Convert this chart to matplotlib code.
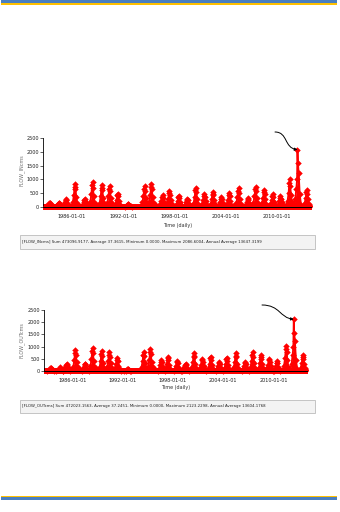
import matplotlib
matplotlib.use("Agg")
import matplotlib.pyplot as plt
from matplotlib.patches import Rectangle, FancyArrowPatch
from matplotlib.path import Path
from matplotlib import font_manager

# ---------------- data ----------------
event_years = [1983.40, 1984.50, 1985.30, 1986.35, 1987.50, 1988.40, 1989.50, 1990.40,
               1991.35, 1992.60, 1994.50, 1995.30, 1996.60, 1997.40, 1998.50, 1999.50,
               2000.50, 2001.50, 2002.50, 2003.50, 2004.40, 2005.50, 2006.60, 2007.50,
               2008.50, 2009.50, 2010.40, 2011.50, 2012.40, 2013.50]
event_offsets_days = [-150, -95, -50, -18, 0, 18, 50, 95, 150]

flow_in = [
    [10, 40, 90, 130, 150, 120, 70, 30, 10],
    [10, 40, 100, 140, 150, 110, 60, 25, 10],
    [15, 80, 180, 250, 280, 240, 150, 60, 15],
    [40, 160, 420, 720, 830, 650, 360, 140, 30],
    [15, 70, 170, 250, 280, 220, 120, 50, 15],
    [40, 180, 460, 780, 900, 700, 380, 150, 30],
    [35, 150, 400, 680, 780, 600, 330, 130, 30],
    [35, 150, 390, 650, 750, 580, 320, 120, 30],
    [20, 100, 250, 420, 480, 380, 210, 80, 20],
    [5, 20, 50, 85, 100, 70, 40, 15, 5],
    [35, 160, 390, 660, 760, 590, 320, 120, 30],
    [40, 170, 420, 710, 820, 630, 350, 140, 30],
    [20, 90, 220, 360, 420, 330, 180, 70, 20],
    [25, 120, 290, 490, 560, 430, 240, 90, 25],
    [20, 85, 210, 350, 400, 310, 170, 65, 20],
    [15, 60, 160, 260, 300, 230, 130, 50, 15],
    [35, 145, 360, 610, 700, 540, 300, 115, 30],
    [20, 100, 240, 410, 470, 360, 200, 75, 20],
    [25, 110, 280, 470, 540, 420, 230, 90, 25],
    [15, 75, 180, 300, 350, 270, 150, 60, 15],
    [25, 105, 260, 430, 500, 390, 210, 80, 20],
    [30, 140, 350, 590, 680, 520, 290, 110, 30],
    [15, 70, 170, 285, 330, 255, 140, 55, 15],
    [35, 150, 380, 630, 730, 560, 310, 120, 30],
    [30, 130, 320, 540, 620, 480, 265, 100, 25],
    [20, 95, 230, 390, 450, 350, 190, 75, 20],
    [20, 80, 195, 330, 380, 295, 160, 60, 15],
    [50, 210, 520, 870, 1000, 770, 430, 165, 40],
    [60, 280, 650, 1000, 2086.6, 1600, 1250, 480, 80],
    [30, 130, 320, 540, 620, 480, 265, 100, 25],
]

flow_out = [
    [8, 35, 80, 115, 130, 105, 60, 25, 8],
    [10, 40, 100, 140, 150, 110, 60, 25, 10],
    [15, 80, 180, 250, 280, 240, 150, 60, 15],
    [45, 170, 440, 750, 860, 670, 370, 145, 30],
    [15, 75, 185, 270, 305, 240, 130, 55, 15],
    [45, 190, 480, 810, 930, 720, 395, 155, 30],
    [40, 160, 420, 710, 820, 630, 345, 135, 30],
    [35, 155, 400, 665, 765, 590, 325, 125, 30],
    [25, 105, 270, 450, 520, 410, 225, 85, 20],
    [5, 18, 45, 75, 90, 65, 35, 15, 5],
    [35, 165, 400, 675, 780, 605, 330, 125, 30],
    [45, 185, 460, 770, 890, 690, 380, 150, 35],
    [20, 95, 235, 390, 450, 350, 190, 75, 20],
    [30, 125, 305, 515, 590, 455, 250, 95, 25],
    [20, 90, 220, 365, 420, 325, 180, 70, 20],
    [15, 60, 160, 260, 300, 230, 130, 50, 15],
    [35, 150, 370, 625, 720, 555, 305, 120, 30],
    [25, 105, 255, 435, 500, 385, 210, 80, 20],
    [30, 125, 305, 515, 590, 455, 250, 95, 25],
    [20, 80, 195, 330, 380, 295, 160, 60, 15],
    [25, 115, 285, 475, 550, 425, 235, 90, 25],
    [35, 150, 370, 625, 720, 555, 305, 120, 30],
    [20, 80, 195, 330, 380, 295, 160, 60, 15],
    [40, 160, 400, 665, 765, 590, 325, 125, 30],
    [30, 135, 335, 565, 650, 500, 275, 105, 25],
    [25, 105, 255, 435, 500, 385, 210, 80, 20],
    [20, 85, 205, 345, 400, 310, 170, 65, 15],
    [50, 215, 530, 885, 1020, 785, 435, 170, 40],
    [60, 290, 660, 970, 2123.2, 1570, 1240, 470, 80],
    [30, 135, 335, 565, 650, 500, 275, 105, 25],
]

series_span = [1982.6, 2014.1]
tick_years = [1986, 1992, 1998, 2004, 2010]
tick_labels = ["1986-01-01", "1992-01-01", "1998-01-01", "2004-01-01", "2010-01-01"]
y_ticks = [0, 500, 1000, 1500, 2000, 2500]

status_in = ("[FLOW_INcms] Sum 473096.9177, Average 37.3615, Minimum 0.0000, "
             "Maximum 2086.6004, Annual Average 13647.3199")
status_out = ("[FLOW_OUTcms] Sum 472023.1563, Average 37.2451, Minimum 0.0000, "
              "Maximum 2123.2298, Annual Average 13604.1768")

# ---------------- style ----------------
W, H = 340, 512
names = {f.name for f in font_manager.fontManager.ttflist}
FONT = "Liberation Sans Narrow" if "Liberation Sans Narrow" in names else "DejaVu Sans"
plt.rcParams["font.family"] = [FONT, "DejaVu Sans"]
RED = "#ff0000"
BLUE = "#4a7fc0"
GOLD = "#ffc000"

fig = plt.figure(figsize=(W / 100, H / 100), dpi=100)
fig.patch.set_facecolor("white")


def rect_px(l, t, r, b):
    return [l / W, 1 - b / H, (r - l) / W, (b - t) / H]


def fig_rect(l, t, r, b, **kw):
    fig.patches.append(Rectangle((l / W, 1 - b / H), (r - l) / W, (b - t) / H,
                                 transform=fig.transFigure, figure=fig, **kw))


# header / footer bands
fig_rect(1, 0, 337, 3.4, facecolor=BLUE, edgecolor="none")
fig_rect(1, 3.4, 337, 4.8, facecolor=GOLD, edgecolor="none")
fig_rect(1, 495.6, 337, 496.5, facecolor=GOLD, edgecolor="none")
fig_rect(1, 496.6, 337, 500.2, facecolor=BLUE, edgecolor="none")
fig_rect(1, 500.5, 337, 501.4, facecolor=GOLD, edgecolor="none")
# faint window edge above the second chart
fig_rect(20, 300.8, 315, 301.4, facecolor="#e4e4e4", edgecolor="none")

TFS = 3.5


def draw_chart(box, values, ylabel, ylabel_xy, xlabel_y, peak_idx, arrow_px, status,
               status_box):
    l, t, r, b = box
    ax = fig.add_axes(rect_px(l, t, r, b))
    ax.set_facecolor("none")
    # baseline band
    ax.plot(series_span, [0, 0], color=RED, lw=4.3, solid_capstyle="butt", zorder=2)
    for yr, vals in zip(event_years, values):
        ts = [yr + d / 365.25 for d in event_offsets_days]
        ax.fill_between(ts, vals, 0, color=RED, lw=0, zorder=3)
        ax.plot(ts, vals, color=RED, lw=1.3, marker="D", ms=3.3, mew=0, zorder=4)
    ax.axhline(0, color="black", lw=0.7, zorder=5)
    ax.set_xlim(series_span[0], series_span[1])
    ax.set_ylim(-130, 2500)
    for s in ["top", "right", "bottom"]:
        ax.spines[s].set_visible(False)
    ax.spines["left"].set_linewidth(0.6)
    ax.spines["left"].set_bounds(0, 2500)
    ax.set_yticks(y_ticks)
    ax.set_yticklabels([str(v) for v in y_ticks])
    ax.set_xticks(tick_years)
    ax.set_xticklabels(tick_labels)
    ax.tick_params(axis="y", length=2, width=0.5, pad=1, labelsize=TFS, colors="#202020")
    ax.tick_params(axis="x", length=0, pad=2.5, labelsize=TFS, colors="#202020")
    fig.text(ylabel_xy[0] / W, 1 - ylabel_xy[1] / H, ylabel, rotation=90,
             ha="center", va="center", fontsize=TFS, color="#707070")
    fig.text((l + r) / 2 / W, 1 - xlabel_y / H, "Time (daily)", ha="center",
             va="center", fontsize=TFS, color="#303030")
    # annotation curve pointing to the maximum
    pk_x = event_years[peak_idx]
    pk_y = max(values[peak_idx])
    (sx, sy), (c1x, c1y), (c2x, c2y) = arrow_px

    def px2data(px, py):
        xd = series_span[0] + (px - l) / (r - l) * (series_span[1] - series_span[0])
        yd = -130 + (b - py) / (b - t) * (2500 + 130)
        return xd, yd

    p = Path([px2data(sx, sy), px2data(c1x, c1y), px2data(c2x, c2y), (pk_x, pk_y)],
             [Path.MOVETO, Path.CURVE4, Path.CURVE4, Path.CURVE4])
    arr = FancyArrowPatch(path=p, arrowstyle="-|>", mutation_scale=4, lw=0.7,
                          color="black", transform=ax.transData, zorder=6)
    arr.set_clip_on(False)
    ax.add_patch(arr)
    # status bar
    sl, st, sr, sb = status_box
    fig_rect(sl, st, sr, sb, facecolor="#f3f3f3", edgecolor="#b0b0b0", lw=0.5)
    fig.text((sl + 1.5) / W, 1 - (st + sb) / 2 / H, status, ha="left", va="center",
             fontsize=2.75, color="#202020")
    return ax


draw_chart((43, 138.3, 312, 210.3), flow_in, "FLOW_INcms", (22, 170), 226, 28,
           ((275, 132), (288, 132), (284, 148)), status_in, (20, 235, 315, 249))
draw_chart((44, 310, 308, 374.2), flow_out, "FLOW_OUTcms", (22, 340), 388, 28,
           ((262, 305), (280, 305), (280, 318)), status_out, (20, 400, 315, 413))

fig.savefig("out.png", dpi=100, facecolor="white")
